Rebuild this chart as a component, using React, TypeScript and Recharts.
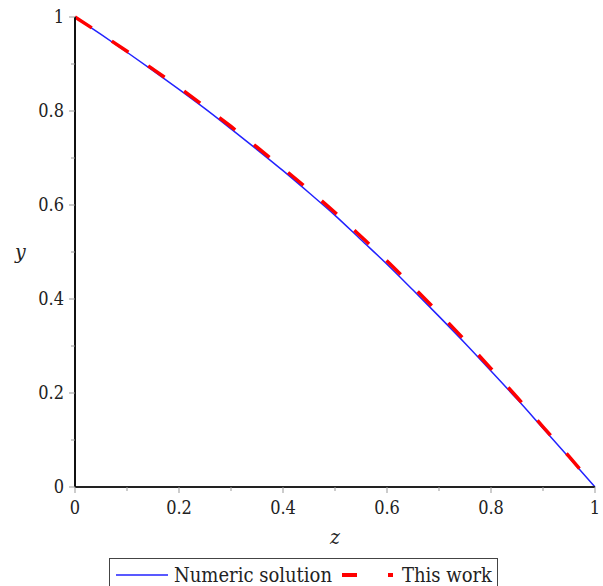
import { LineChart, Line, XAxis, YAxis, Legend } from 'recharts';

// z values along the horizontal axis
const zValues = [0, 0.05, 0.1, 0.15, 0.2, 0.25, 0.3, 0.35, 0.4, 0.45, 0.5, 0.55, 0.6, 0.65, 0.7, 0.75, 0.8, 0.85, 0.9, 0.95, 1];
// numeric solution (blue solid)
const numericY = [1.0, 0.963, 0.925, 0.886, 0.846, 0.805, 0.762, 0.718, 0.673, 0.626, 0.578, 0.526, 0.474, 0.419, 0.363, 0.306, 0.247, 0.187, 0.125, 0.063, 0];
// this work (red dashed)
const thisWorkY = [1.0, 0.964, 0.927, 0.889, 0.85, 0.809, 0.767, 0.723, 0.678, 0.632, 0.584, 0.533, 0.481, 0.426, 0.37, 0.312, 0.252, 0.191, 0.128, 0.065, 0];
const axisTicks = [0, 0.1, 0.2, 0.3, 0.4, 0.5, 0.6, 0.7, 0.8, 0.9, 1];

const data = zValues.map((z, i) => ({ z, numeric: numericY[i], thisWork: thisWorkY[i] }));

const FONT = '"DejaVu Serif Condensed", "DejaVu Serif", serif';

const isMajor = (v: number) => Math.round(v * 10) % 2 === 0;
const fmt = (v: number) => (v === 0 ? '0' : v === 1 ? '1' : v.toFixed(1));

const XTick = (props: any) => {
  const { x, y, payload } = props;
  const major = isMajor(payload.value);
  return (
    <g>
      <line x1={x} x2={x} y1={y} y2={y + (major ? 6 : 4)} stroke="#999" strokeWidth={1} />
      {major && (
        <text x={x} y={y + 27} textAnchor="middle" fontSize={18} style={{ fontFamily: FONT, fontStretch: 'condensed' }} fill="#222">
          {fmt(payload.value)}
        </text>
      )}
    </g>
  );
};

const YTick = (props: any) => {
  const { x, y, payload } = props;
  const major = isMajor(payload.value);
  return (
    <g>
      <line x1={x} x2={x - (major ? 6 : 4)} y1={y} y2={y} stroke="#999" strokeWidth={1} />
      {major && (
        <text x={x - 11} y={y + 6} textAnchor="end" fontSize={18} style={{ fontFamily: FONT, fontStretch: 'condensed' }} fill="#222">
          {fmt(payload.value)}
        </text>
      )}
    </g>
  );
};

function LegendBox() {
  return (
    <div
      style={{
        border: '1.5px solid #444',
        height: 34,
        boxSizing: 'border-box',
        display: 'flex',
        alignItems: 'center',
        fontFamily: FONT,
        fontStretch: 'condensed',
        fontSize: 20,
        color: '#222',
        paddingLeft: 5,
        whiteSpace: 'nowrap',
      }}
    >
      <svg width={54} height={10}>
        <line x1={1} x2={53} y1={5} y2={5} stroke="#2222ff" strokeWidth={1.5} />
      </svg>
      <span style={{ marginLeft: 5 }}>Numeric solution</span>
      <svg width={62} height={10} style={{ marginLeft: 8 }}>
        <line x1={2} x2={17} y1={5} y2={5} stroke="#ff0000" strokeWidth={4} />
        <line x1={48} x2={53} y1={5} y2={5} stroke="#ff0000" strokeWidth={4} />
      </svg>
      <span style={{ marginLeft: 0 }}>This work</span>
    </div>
  );
}

export default function App() {
  return (
    <div style={{ position: 'absolute', left: 0, top: 0, width: 603, height: 586, background: '#fff', overflow: 'hidden' }}>
      <LineChart width={603} height={586} data={data} margin={{ top: 17, right: 8, left: 0, bottom: 0 }}>
        <XAxis
          dataKey="z"
          type="number"
          domain={[0, 1]}
          ticks={axisTicks}
          interval={0}
          height={99}
          tickSize={0}
          tickMargin={0}
          tick={<XTick />}
          axisLine={{ stroke: '#222', strokeWidth: 2 }}
          label={{ value: 'z', position: 'insideBottom', offset: 42, fontSize: 21, fontStyle: 'italic', style: { fontFamily: FONT }, fill: '#222' }}
        />
        <YAxis
          type="number"
          domain={[0, 1]}
          ticks={axisTicks}
          interval={0}
          width={75}
          tickSize={0}
          tickMargin={0}
          tick={<YTick />}
          axisLine={{ stroke: '#111', strokeWidth: 2 }}
          label={{ value: 'y', position: 'insideLeft', offset: 15, fontSize: 21, fontStyle: 'italic', style: { fontFamily: FONT }, fill: '#222' }}
        />
        <Legend
          layout="horizontal"
          verticalAlign="middle"
          align="center"
          content={<LegendBox />}
          wrapperStyle={{ top: 558, left: 109, width: 389 }}
        />
        <Line
          type="monotone"
          dataKey="numeric"
          name="Numeric solution"
          stroke="#2222ff"
          strokeWidth={1.5}
          dot={false}
          isAnimationActive={false}
        />
        <Line
          type="monotone"
          dataKey="thisWork"
          name="This work"
          stroke="#ff0000"
          strokeWidth={3.5}
          strokeDasharray="20 24"
          dot={false}
          isAnimationActive={false}
        />
      </LineChart>
    </div>
  );
}
